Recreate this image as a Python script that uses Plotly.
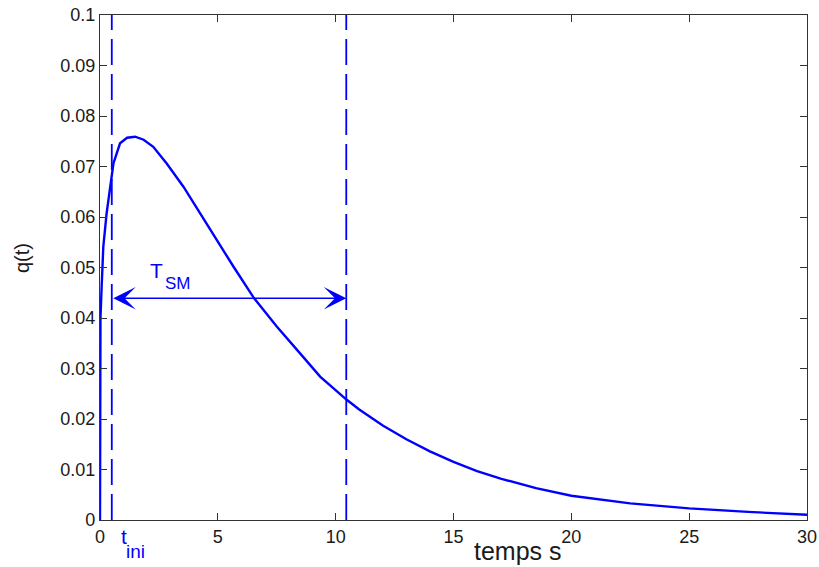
import plotly.graph_objects as go

# data
t = [0, 0.005, 0.02, 0.07, 0.14, 0.28, 0.42, 0.57, 0.85, 1.15, 1.49, 1.85,
     2.26, 2.83, 3.54, 4.24, 4.95, 5.66, 6.54, 7.5, 8.49, 9.34, 10.47,
     11, 12, 13, 14, 15, 16, 17, 18.5, 20, 22.5, 25, 27.5, 30]
q = [0, 0.036, 0.040, 0.0462, 0.0541, 0.0607, 0.0660, 0.0706, 0.0746, 0.0757,
     0.0759, 0.0753, 0.0739, 0.0706, 0.0660, 0.0607, 0.0554, 0.0502, 0.0439,
     0.0383, 0.0330, 0.0284, 0.0238, 0.0219, 0.0187, 0.0160, 0.0136, 0.0115,
     0.0097, 0.0082, 0.0063, 0.0048, 0.0033, 0.0023, 0.0016, 0.00105]

t_ini = 0.5
t_end = 10.45
arrow_q = 0.0439

x_ticks = [0, 5, 10, 15, 20, 25, 30]
y_ticks = [0, 0.01, 0.02, 0.03, 0.04, 0.05, 0.06, 0.07, 0.08, 0.09, 0.1]
y_ticktext = ["0", "0.01", "0.02", "0.03", "0.04", "0.05", "0.06", "0.07",
              "0.08", "0.09", "0.1"]

BLUE = "#0000ff"
FONT = "Liberation Sans, Arial, sans-serif"
TXT = "#1a1a1a"

fig = go.Figure()
fig.add_trace(go.Scatter(x=t, y=q, mode="lines",
                         line=dict(color=BLUE, width=2.4), showlegend=False))

for xv in (t_ini, t_end):
    fig.add_shape(type="line", xref="x", yref="y", x0=xv, x1=xv, y0=0, y1=0.1,
                  line=dict(color=BLUE, width=1.8, dash="26px,9px"))

fig.add_annotation(x=t_end, y=arrow_q, ax=t_ini, ay=arrow_q, xref="x", yref="y",
                   axref="x", ayref="y", text="", showarrow=True,
                   arrowhead=3, startarrowhead=3, arrowside="end+start",
                   arrowsize=2.5, startarrowsize=2.5, arrowwidth=1.5,
                   arrowcolor=BLUE, standoff=0, startstandoff=0)

W, H = 819, 567
ML, MR, MT, MB = 100, 12, 15, 47
pw, ph = W - ML - MR, H - MT - MB


def px(xp):
    return (xp - ML) / pw


def py(yp):
    return 1 - (yp - MT) / ph


# T_SM label
fig.add_annotation(x=px(148), y=py(270), xref="paper", yref="paper", text="T",
                   showarrow=False, font=dict(family=FONT, size=21, color=BLUE),
                   xanchor="left", yanchor="middle")
fig.add_annotation(x=px(163), y=py(283), xref="paper", yref="paper", text="SM",
                   showarrow=False, font=dict(family=FONT, size=17, color=BLUE),
                   xanchor="left", yanchor="middle")
# t_ini label
fig.add_annotation(x=px(119), y=py(536), xref="paper", yref="paper", text="t",
                   showarrow=False, font=dict(family=FONT, size=21, color=BLUE),
                   xanchor="left", yanchor="middle")
fig.add_annotation(x=px(124), y=py(551), xref="paper", yref="paper", text="ini",
                   showarrow=False, font=dict(family=FONT, size=19, color=BLUE),
                   xanchor="left", yanchor="middle")
# axis titles
fig.add_annotation(x=px(518), y=py(551), xref="paper", yref="paper", text="temps s",
                   showarrow=False, font=dict(family=FONT, size=25, color=TXT),
                   xanchor="center", yanchor="middle")
fig.add_annotation(x=px(22), y=py(258), xref="paper", yref="paper", text="q(t)",
                   showarrow=False, textangle=-90,
                   font=dict(family=FONT, size=20, color=TXT),
                   xanchor="center", yanchor="middle")

axis_common = dict(showline=True, linecolor="#333333", linewidth=1.2, mirror="ticks",
                   ticks="inside", ticklen=7, tickcolor="#333333", tickwidth=1.2,
                   showgrid=False, zeroline=False, automargin=False,
                   tickfont=dict(family=FONT, size=18, color=TXT))

fig.update_layout(
    width=W, height=H, margin=dict(l=ML, r=MR, t=MT, b=MB, autoexpand=False),
    plot_bgcolor="white", paper_bgcolor="white",
    xaxis=dict(range=[0, 30], tickvals=x_ticks, **axis_common),
    yaxis=dict(range=[0, 0.1], tickvals=y_ticks, ticktext=y_ticktext, **axis_common),
)

fig.write_html("out.html",
               config={"displayModeBar": False},
               post_script="document.body.style.margin='0';"
                           "document.body.style.overflow='hidden';")
